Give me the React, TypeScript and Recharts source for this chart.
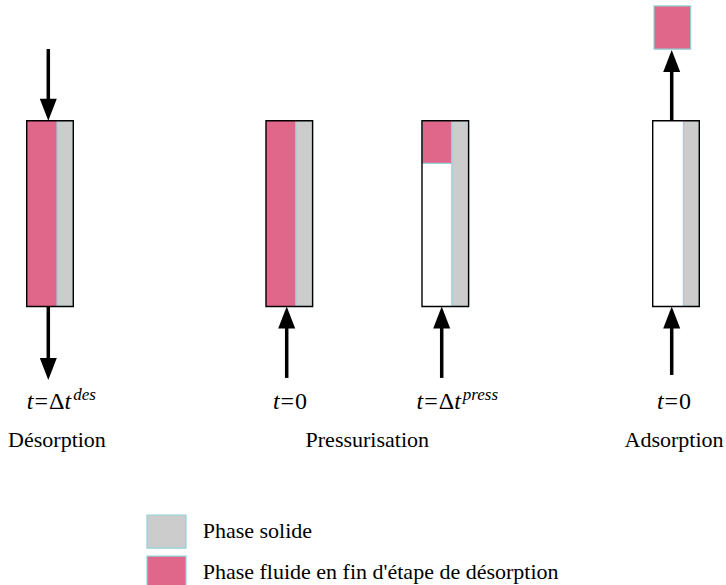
import React from 'react';
import { ComposedChart, XAxis, YAxis, ReferenceArea, ReferenceLine, ReferenceDot } from 'recharts';

// ---------- data ----------
const columnIds = ['desorption-end', 'pressurisation-start', 'pressurisation-end', 'adsorption-start'];
// share of the bed height (from the top) filled with the fluid present at the end of desorption
const fluidShare = [1, 1, 0.23, 0];
// share of the bed width occupied by the solid phase
const solidShare = [0.35, 0.36, 0.36, 0.34];
const timeBase = ['Δ', '0', 'Δ', '0'];
const timeSup = ['des', '', 'press', ''];
const stageNames = ['Désorption', 'Pressurisation', 'Adsorption'];
const legendLabels = ['Phase solide', "Phase fluide en fin d'étape de désorption"];

// ---------- layout / style ----------
const W = 726;
const H = 585;
const X_DOMAIN: [number, number] = [0, 726];
const Y_DOMAIN: [number, number] = [-1.5, 1.65];
const PX_PER_UNIT = H / (Y_DOMAIN[1] - Y_DOMAIN[0]);

const colLeft = [26.7, 266, 422, 652.7];
const colWidth = 46.6;
const arrowX = [48.3, 286.7, 441.7, 671.7];
const timeLabelX = [61.3, 290, 457.3, 674];
const stageX = [57, 367.3, 674];
const TIME_Y = -0.552;
const STAGE_Y = -0.757;

const arrows = [
  { col: 0, from: 1.386, to: 1.0 },
  { col: 0, from: 0, to: -0.396 },
  { col: 1, from: -0.385, to: 0 },
  { col: 2, from: -0.385, to: 0 },
  { col: 3, from: -0.369, to: 0 },
  { col: 3, from: 1, to: 1.381 },
];
const expelled = { x1: 654, x2: 690.7, y1: 1.385, y2: 1.618 };

const legendBox = { x1: 147, x2: 186 };
const legendRows = [
  { y1: -1.123, y2: -1.301, textY: -1.247 },
  { y1: -1.344, y2: -1.527, textY: -1.468 },
];
const LEGEND_TEXT_X = 202.7;

const PINK = '#e0668a';
const GREY = '#cccccc';
const CYAN = '#8fd3da';
const FONT = '"Liberation Serif", "Times New Roman", Times, "DejaVu Serif", serif';
const HEAD_LEN = 22;
const HEAD_HALF = 8.5;
const SHAFT_W = 3.5;

const headShape = (up: boolean) => (props: any) => {
  const { cx, cy } = props;
  const b = up ? cy + HEAD_LEN : cy - HEAD_LEN;
  return <polygon points={`${cx - HEAD_HALF},${b} ${cx + HEAD_HALF},${b} ${cx},${cy}`} fill="#000" />;
};

const textShape = (content: React.ReactNode, anchor: 'start' | 'middle' = 'middle', size = 22) => (props: any) => (
  <text x={props.cx} y={props.cy} textAnchor={anchor} style={{ fontFamily: FONT, fontSize: size }} fill="#000">
    {content}
  </text>
);

const timeContent = (i: number) => (
  <>
    <tspan style={{ fontStyle: 'italic' }}>t</tspan>
    <tspan dx={1}>=</tspan>
    <tspan dx={1}>{timeBase[i]}</tspan>
    {timeSup[i] ? (
      <>
        <tspan style={{ fontStyle: 'italic' }}>t</tspan>
        <tspan style={{ fontStyle: 'italic', fontSize: 17 }} dx={2} dy={-9}>{timeSup[i]}</tspan>
      </>
    ) : null}
  </>
);

export default function App() {
  const headUnits = HEAD_LEN / PX_PER_UNIT;
  return (
    <div style={{ position: 'absolute', left: 0, top: 0, width: W, height: H, background: '#fff' }}>
      <ComposedChart width={W} height={H} data={columnIds.map((id, i) => ({ id, x: colLeft[i], y: 0 }))}
        margin={{ top: 0, right: 0, bottom: 0, left: 0 }}>
        <XAxis type="number" dataKey="x" domain={X_DOMAIN} allowDataOverflow hide />
        <YAxis type="number" dataKey="y" domain={Y_DOMAIN} allowDataOverflow hide />

        {columnIds.map((id, i) => (
          <ReferenceArea key={`bg-${id}`} x1={colLeft[i]} x2={colLeft[i] + colWidth} y1={0} y2={1}
            fill="#fff" fillOpacity={1} stroke="none" ifOverflow="visible" />
        ))}
        {columnIds.map((id, i) =>
          fluidShare[i] > 0 ? (
            <ReferenceArea key={`fl-${id}`} x1={colLeft[i]} x2={colLeft[i] + colWidth * (1 - solidShare[i])}
              y1={1 - fluidShare[i]} y2={1} fill={PINK} fillOpacity={1}
              stroke={fluidShare[i] < 1 ? CYAN : 'none'} strokeWidth={1.2} ifOverflow="visible" />
          ) : null
        )}
        {columnIds.map((id, i) => (
          <ReferenceArea key={`so-${id}`} x1={colLeft[i] + colWidth * (1 - solidShare[i])} x2={colLeft[i] + colWidth}
            y1={0} y2={1} fill={GREY} fillOpacity={1} stroke={CYAN} strokeWidth={1.2} ifOverflow="visible" />
        ))}
        {columnIds.map((id, i) => (
          <ReferenceArea key={`ol-${id}`} x1={colLeft[i]} x2={colLeft[i] + colWidth} y1={0} y2={1}
            fill="none" fillOpacity={0} stroke="#000" strokeWidth={1.4} ifOverflow="visible" />
        ))}
        <ReferenceArea x1={expelled.x1} x2={expelled.x2} y1={expelled.y1} y2={expelled.y2}
          fill={PINK} fillOpacity={1} stroke={CYAN} strokeWidth={1.2} ifOverflow="visible" />
        {legendRows.map((r, i) => (
          <ReferenceArea key={`lg-${i}`} x1={legendBox.x1} x2={legendBox.x2} y1={r.y1} y2={r.y2}
            fill={i === 0 ? GREY : PINK} fillOpacity={1} stroke={CYAN} strokeWidth={1.2} ifOverflow="visible" />
        ))}

        {arrows.map((a, i) => {
          const up = a.to > a.from;
          const end = up ? a.to - headUnits + 0.01 : a.to + headUnits - 0.01;
          return (
            <ReferenceLine key={`sh-${i}`} segment={[{ x: arrowX[a.col], y: a.from }, { x: arrowX[a.col], y: end }]}
              stroke="#000" strokeWidth={SHAFT_W} ifOverflow="visible" />
          );
        })}
        {arrows.map((a, i) => (
          <ReferenceDot key={`hd-${i}`} x={arrowX[a.col]} y={a.to} ifOverflow="visible"
            shape={headShape(a.to > a.from)} />
        ))}

        {columnIds.map((id, i) => (
          <ReferenceDot key={`tl-${id}`} x={timeLabelX[i]} y={TIME_Y} ifOverflow="visible"
            shape={textShape(timeContent(i), 'middle', 24)} />
        ))}
        {stageNames.map((s, i) => (
          <ReferenceDot key={`st-${i}`} x={stageX[i]} y={STAGE_Y} ifOverflow="visible" shape={textShape(s)} />
        ))}
        {legendLabels.map((s, i) => (
          <ReferenceDot key={`ll-${i}`} x={LEGEND_TEXT_X} y={legendRows[i].textY} ifOverflow="visible"
            shape={textShape(s, 'start')} />
        ))}
      </ComposedChart>
    </div>
  );
}
